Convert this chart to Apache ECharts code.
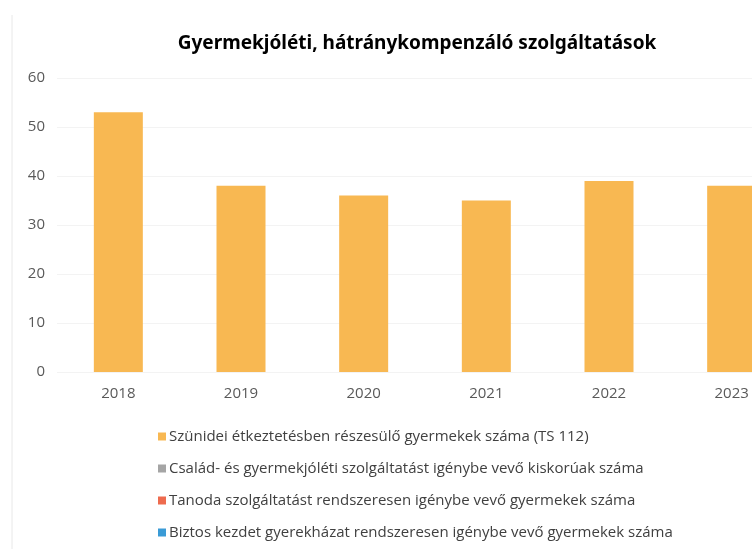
<!DOCTYPE html>
<html>
<head>
<meta charset="utf-8">
<script src="https://cdn.jsdelivr.net/npm/echarts@6/dist/echarts.min.js"></script>
<style>
  html, body { margin: 0; padding: 0; background: #fff; }
  #chart { width: 752px; height: 549px; }
</style>
</head>
<body>
<div id="chart"></div>
<script>
// adatok
const years = ['2018', '2019', '2020', '2021', '2022', '2023']
const szunidei = [53, 38, 36, 35, 39, 38]
const csaladGyermekjoleti = []
const tanoda = []
const biztosKezdet = []
const seriesNames = [
  'Szünidei étkeztetésben részesülő gyermekek száma (TS 112)',
  'Család- és gyermekjóléti szolgáltatást igénybe vevő kiskorúak száma',
  'Tanoda szolgáltatást rendszeresen igénybe vevő gyermekek száma',
  'Biztos kezdet gyerekházat rendszeresen igénybe vevő gyermekek száma'
]
const colors = ['#F8B852', '#A5A5A5', '#EE6B4E', '#3A9BD6']

const chart = echarts.init(document.getElementById('chart'))
const font = '"Open Sans", "Noto Sans", sans-serif'

const mkSeries = (name, data) => ({
  name: name,
  type: 'bar',
  stack: 'all',
  barWidth: 49,
  data: data
})

chart.setOption({
  animation: false,
  color: colors,
  title: {
    text: 'Gyermekjóléti, hátránykompenzáló szolgáltatások',
    left: 412,
    textAlign: 'center',
    top: 29,
    textStyle: {
      fontFamily: '"Noto Sans", sans-serif',
      fontSize: 19,
      fontWeight: 'bold',
      color: '#000'
    }
  },
  legend: {
    orient: 'vertical',
    left: 153,
    top: 424,
    itemGap: 17,
    itemWidth: 8,
    itemHeight: 8,
    icon: 'rect',
    data: seriesNames,
    textStyle: {
      fontFamily: font,
      fontSize: 15,
      color: '#404040',
      padding: [0, 0, 0, -2]
    }
  },
  grid: {
    left: 57,
    width: 736,
    top: 78,
    bottom: 177,
    containLabel: false,
    outerBoundsMode: 'none'
  },
  xAxis: {
    type: 'category',
    data: years,
    axisLine: { show: false },
    axisTick: { show: false },
    axisLabel: {
      margin: 14,
      fontFamily: font,
      fontSize: 15,
      color: '#595959'
    }
  },
  yAxis: {
    type: 'value',
    min: 0,
    max: 60,
    interval: 10,
    axisLine: { show: false },
    axisTick: { show: false },
    splitLine: { lineStyle: { color: '#f3f3f3' } },
    axisLabel: {
      margin: 12,
      fontFamily: font,
      fontSize: 15,
      color: '#595959'
    }
  },
  graphic: [{
    type: 'line',
    shape: { x1: 12, y1: 15, x2: 12, y2: 549 },
    style: { stroke: '#e8e8e8', lineWidth: 1 }
  }],
  series: [
    mkSeries(seriesNames[0], szunidei),
    mkSeries(seriesNames[1], csaladGyermekjoleti),
    mkSeries(seriesNames[2], tanoda),
    mkSeries(seriesNames[3], biztosKezdet)
  ]
})
</script>
</body>
</html>
